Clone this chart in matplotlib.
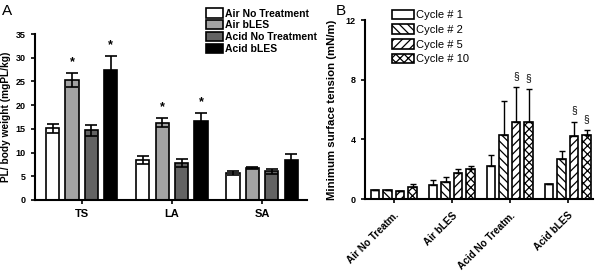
import matplotlib
matplotlib.use("Agg")
import matplotlib.pyplot as plt
import numpy as np

plt.rcParams['font.family'] = ['Liberation Sans', 'DejaVu Sans']
plt.rcParams['hatch.linewidth'] = 0.9

# panel A data
groups_a = ['TS', 'LA', 'SA']
series_a = ['Air No Treatment', 'Air bLES', 'Acid No Treatment', 'Acid bLES']
vals_a = [[15.1, 8.4, 5.6],
          [25.3, 16.3, 6.7],
          [14.7, 7.8, 6.0],
          [27.5, 16.6, 8.5]]
errs_a = [[0.9, 0.8, 0.4],
          [1.4, 0.9, 0.2],
          [1.2, 0.8, 0.5],
          [2.9, 1.8, 1.2]]
stars_a = [[False, False, False],
           [True, True, False],
           [False, False, False],
           [True, True, False]]
colors_a = ['white', '#a3a3a3', '#636363', 'black']

# panel B data
groups_b = ['Air No Treatm.', 'Air bLES', 'Acid No Treatm.', 'Acid bLES']
series_b = ['Cycle # 1', 'Cycle # 2', 'Cycle # 5', 'Cycle # 10']
vals_b = [[0.6, 0.95, 2.25, 1.0],
          [0.62, 1.15, 4.3, 2.7],
          [0.52, 1.75, 5.2, 4.2],
          [0.8, 2.05, 5.15, 4.3]]
errs_b = [[0.02, 0.3, 0.7, 0.03],
          [0.02, 0.3, 2.3, 0.5],
          [0.03, 0.25, 2.3, 1.0],
          [0.2, 0.2, 2.2, 0.35]]
marks_b = [[False, False, False, False],
           [False, False, False, False],
           [False, False, True, True],
           [False, False, True, True]]
hatches_b = ['', '\\\\\\\\', '////', 'xxxx']

fig = plt.figure(figsize=(6, 2.72), dpi=100)

def style_axes(ax):
    ax.spines['top'].set_visible(False)
    ax.spines['right'].set_visible(False)
    ax.spines['left'].set_linewidth(1.5)
    ax.spines['bottom'].set_linewidth(1.5)
    ax.tick_params(width=1.2, length=3, labelsize=6.5)

# ---- A ----
axa = fig.add_axes([0.058, 0.265, 0.454, 0.61])
pitch = 0.215
w = 0.145
x = np.arange(len(groups_a))
for i in range(4):
    pos = x + (i - 1.5) * pitch
    axa.bar(pos, vals_a[i], w, color=colors_a[i], edgecolor='black',
            linewidth=1.2, label=series_a[i], zorder=2)
    axa.errorbar(pos, vals_a[i], yerr=errs_a[i], fmt='none', ecolor='black',
                 elinewidth=1.2, capsize=4, capthick=1.2, zorder=3)
    for j in range(3):
        if stars_a[i][j]:
            axa.text(pos[j], vals_a[i][j] + errs_a[i][j] + 1.0, '*',
                     ha='center', va='bottom', fontsize=9, fontweight='bold')
axa.set_xlim(-0.52, 2.5)
axa.set_ylim(0, 35)
axa.set_yticks(np.arange(0, 36, 5))
axa.set_xticks(x)
style_axes(axa)
axa.set_yticklabels([str(v) for v in range(0, 36, 5)], fontweight='bold')
axa.set_xticklabels(groups_a, fontweight='bold', fontsize=8)
axa.set_ylabel('PL/ body weight (mgPL/kg)', fontweight='bold', fontsize=7.3,
               labelpad=3)
axa.legend(loc='upper left', bbox_to_anchor=(0.615, 1.18), frameon=False,
           prop={'weight': 'bold', 'size': 7.5}, handlelength=1.6,
           handleheight=1.0, handletextpad=0.2, labelspacing=0.15,
           borderaxespad=0)
fig.text(0.004, 0.985, 'A', fontsize=11, va='top')

# ---- B ----
axb = fig.add_axes([0.608, 0.268, 0.38, 0.658])
xb = np.arange(len(groups_b))
for i in range(4):
    pos = xb + (i - 1.5) * pitch
    axb.bar(pos, vals_b[i], w, color='white', edgecolor='black',
            hatch=hatches_b[i], linewidth=1.2, label=series_b[i], zorder=2)
    axb.errorbar(pos, vals_b[i], yerr=[np.zeros(4), errs_b[i]], fmt='none',
                 ecolor='black', elinewidth=1.0, capsize=2.5, capthick=1.0,
                 zorder=3)
    for j in range(4):
        if marks_b[i][j]:
            axb.text(pos[j], vals_b[i][j] + errs_b[i][j] + 0.4, '§',
                     ha='center', va='bottom', fontsize=7.5)
axb.set_xlim(-0.5, 3.43)
axb.set_ylim(0, 12)
axb.set_yticks([0, 4, 8, 12])
axb.set_xticks(xb)
style_axes(axb)
axb.set_yticklabels(['0', '4', '8', '12'], fontweight='bold')
axb.set_xticklabels(groups_b, rotation=45, ha='right', rotation_mode='anchor',
                    fontweight='bold', fontsize=7.2)
axb.tick_params(axis='x', pad=5)
axb.set_ylabel('Minimum surface tension (mN/m)', fontweight='bold', fontsize=8.2,
               labelpad=6)
axb.legend(loc='upper left', bbox_to_anchor=(0.1, 1.084), frameon=False,
           prop={'size': 8}, handlelength=2.0, handleheight=1.0,
           handletextpad=0.2, labelspacing=0.35, borderaxespad=0)
fig.text(0.56, 0.985, 'B', fontsize=11, va='top')

fig.savefig('out.png', dpi=100)
